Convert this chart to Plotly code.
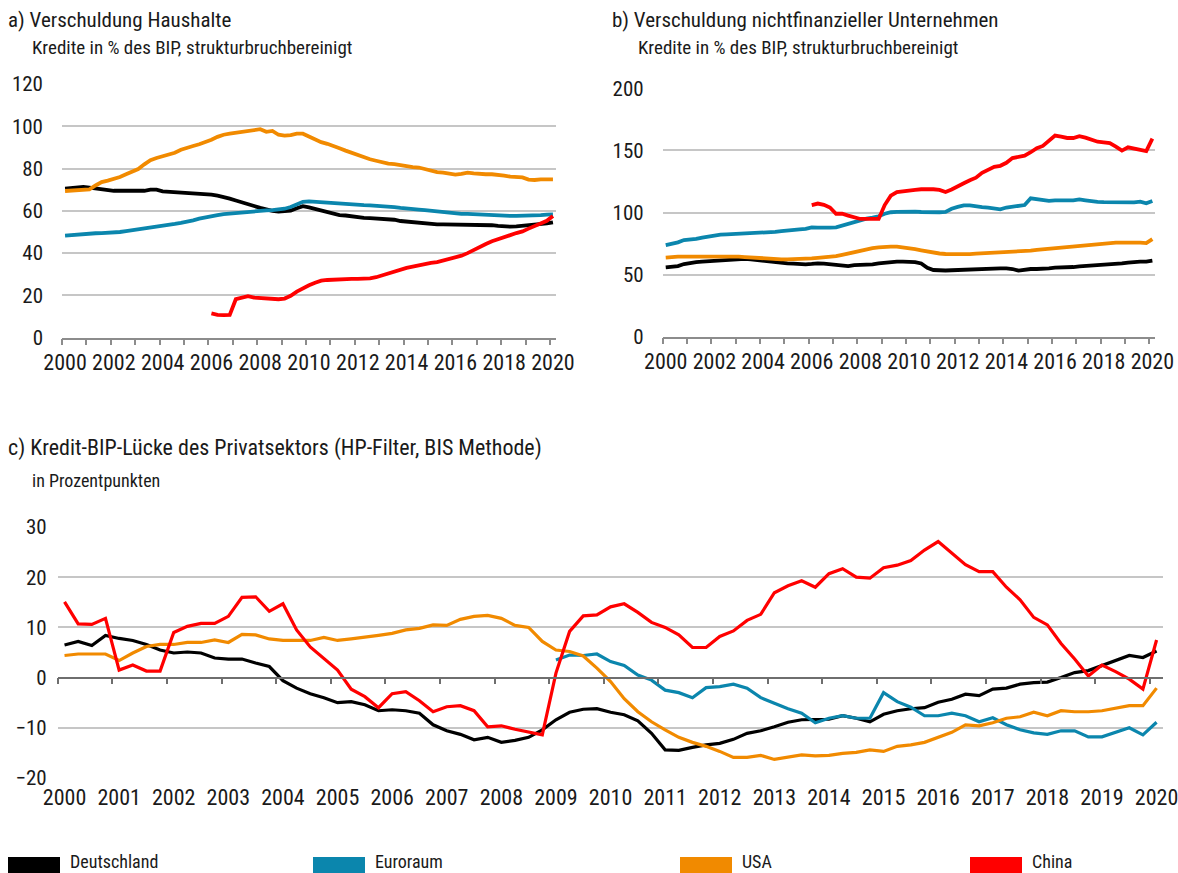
import plotly.graph_objects as go

# quarters 2000Q1 .. 2020Q1
quarters = [f"{2000 + i // 4}Q{i % 4 + 1}" for i in range(81)]

# a) household debt, % of GDP
hh_de = [70.5, 70.8, 71.0, 71.3, 71.0, 70.6, 70.5, 70.0, 69.5, 69.5, 69.5, 69.5, 69.3, 69.5, 70.0, 70.0,
         69.2, 69.0, 69.0, 69.0, 68.5, 68.3, 68.3, 68.2, 67.7, 67.2, 66.7, 65.8, 64.9, 63.9, 63.0, 62.3,
         61.4, 60.6, 60.0, 59.7, 59.7, 60.1, 61.2, 62.2, 61.6, 60.9, 60.2, 59.5, 58.6, 58.0, 57.8, 57.4,
         56.9, 56.7, 56.6, 56.5, 56.3, 56.1, 55.8, 55.2, 54.9, 54.6, 54.3, 54.0, 53.6, 53.6, 53.6, 53.6,
         53.5, 53.4, 53.3, 53.3, 53.3, 53.3, 53.2, 52.9, 52.6, 52.5, 52.7, 52.9, 53.2, 53.5, 53.8, 54.1, 54.6]
hh_ea = [48.3, 48.6, 48.9, 49.1, 49.3, 49.4, 49.5, 49.6, 49.7, 50.0, 50.4, 50.8, 51.1, 51.4, 51.9, 52.2,
         52.7, 53.2, 53.8, 54.3, 54.7, 55.5, 56.3, 57.0, 57.6, 58.0, 58.5, 58.8, 59.0, 59.2, 59.4, 59.7,
         60.0, 60.2, 60.3, 60.6, 61.0, 61.8, 63.0, 64.3, 64.5, 64.3, 64.1, 63.8, 63.5, 63.1, 63.0, 62.9,
         62.8, 62.7, 62.6, 62.5, 62.3, 62.0, 61.8, 61.4, 61.0, 60.8, 60.6, 60.3, 60.0, 59.6, 59.2, 58.9,
         58.7, 58.6, 58.6, 58.4, 58.3, 58.1, 58.0, 57.8, 57.6, 57.6, 57.6, 57.6, 57.7, 57.9, 58.0, 58.2, 58.3]
hh_us = [69.4, 69.7, 70.0, 70.3, 70.2, 72.0, 73.6, 74.3, 75.0, 76.0, 77.3, 78.6, 79.8, 82.0, 84.0, 85.0,
         85.8, 86.6, 87.5, 88.9, 89.6, 90.7, 91.5, 92.5, 93.6, 95.0, 96.0, 96.5, 96.9, 97.6, 98.1, 98.5,
         98.6, 97.4, 97.8, 96.0, 95.6, 95.8, 96.5, 96.5, 95.2, 93.6, 92.5, 91.7, 90.8, 89.6, 88.5, 87.5,
         86.5, 85.2, 84.4, 83.7, 83.0, 82.3, 82.1, 81.5, 81.0, 80.7, 80.5, 79.8, 78.7, 78.3, 78.1, 77.6,
         77.1, 77.5, 78.1, 77.7, 77.3, 77.3, 77.3, 77.2, 76.7, 76.2, 76.0, 75.8, 74.8, 74.6, 74.9, 74.9, 74.9]
hh_cn = [None] * 24 + [
         11.5, 10.8, 10.7, 10.8, 18.2, 18.8, 19.6, 19.0,
         18.8, 18.6, 18.5, 18.2, 18.5, 19.8, 21.8, 23.4, 24.8, 26.0, 27.0, 27.3, 27.5, 27.7, 27.8, 27.8,
         27.8, 27.9, 28.1, 28.6, 29.5, 30.1, 31.0, 32.3, 33.0, 33.6, 34.3, 35.0, 35.4, 35.8, 36.5, 37.2,
         38.0, 38.8, 40.0, 41.6, 43.0, 44.3, 45.6, 46.7, 47.4, 48.5, 49.5, 50.3, 51.6, 52.8, 54.0, 55.3, 57.6]

# b) non-financial corporate debt, % of GDP
nfc_de = [55.9, 56.5, 56.9, 58.5, 59.5, 60.1, 60.4, 60.7, 60.9, 61.2, 61.8, 62.3, 62.4, 62.6, 62.2, 61.7,
          61.0, 60.2, 59.5, 59.1, 59.1, 58.8, 58.4, 58.3, 58.6, 59.1, 58.8, 58.4, 57.5, 57.0, 56.9, 57.6,
          57.7, 57.7, 58.3, 59.1, 59.8, 60.5, 60.5, 60.4, 60.2, 60.1, 59.0, 55.5, 53.7, 53.3, 53.3, 53.5,
          53.7, 53.9, 54.3, 54.6, 55.0, 55.0, 55.0, 55.0, 55.0, 54.5, 53.2, 54.0, 54.5, 54.5, 54.5, 55.0,
          55.6, 55.6, 55.6, 56.1, 56.6, 56.9, 57.2, 57.5, 57.7, 58.0, 58.4, 59.0, 59.7, 60.3, 60.4, 60.4, 61.2]
nfc_ea = [73.8, 74.6, 76.0, 77.8, 78.2, 78.7, 79.8, 80.8, 81.9, 82.2, 82.4, 82.6, 82.9, 83.2, 83.7, 83.7,
          83.7, 84.0, 84.4, 85.0, 85.7, 86.2, 86.5, 86.8, 88.0, 87.8, 87.6, 87.8, 88.1, 89.5, 90.5, 92.0,
          94.0, 95.0, 95.8, 97.0, 99.0, 100.2, 100.5, 100.7, 100.7, 100.7, 100.4, 100.2, 100.2, 100.2, 100.5, 103.0,
          104.5, 105.7, 105.8, 104.8, 104.3, 104.0, 103.4, 102.6, 104.0, 104.9, 105.6, 106.0, 111.4, 110.6, 109.9, 109.4,
          109.7, 110.1, 109.8, 109.7, 110.5, 109.8, 109.0, 108.6, 108.3, 108.2, 108.0, 107.9, 108.0, 108.2, 108.7, 107.4, 109.2]
nfc_us = [63.6, 64.2, 64.4, 64.4, 64.4, 64.4, 64.4, 64.6, 64.8, 65.0, 64.9, 64.6, 64.4, 64.1, 63.8, 63.3,
          62.8, 62.4, 62.3, 62.3, 62.3, 62.3, 62.5, 62.7, 63.0, 63.4, 63.8, 64.2, 64.8, 65.8, 67.0, 68.4,
          69.5, 70.5, 71.3, 72.0, 72.5, 72.5, 72.5, 72.0, 71.2, 70.5, 69.6, 68.5, 67.6, 67.0, 66.6, 66.5,
          66.4, 66.3, 66.5, 66.9, 67.1, 67.3, 67.6, 67.8, 68.1, 68.4, 68.7, 69.0, 69.3, 69.9, 70.4, 70.8,
          71.2, 71.7, 72.3, 72.6, 73.0, 73.4, 74.0, 74.5, 75.0, 75.4, 75.7, 75.8, 76.0, 76.0, 75.8, 75.4, 78.6]
nfc_cn = [None] * 24 + [
          106.0, 107.2, 106.2, 104.0, 99.0, 99.0, 97.5, 95.8,
          94.8, 94.8, 94.8, 94.8, 106.0, 113.5, 116.5, 117.3, 118.0, 118.3, 118.7, 118.9, 118.7, 118.2, 116.5, 118.5,
          121.3, 123.5, 126.0, 128.0, 132.0, 134.5, 136.8, 137.6, 140.0, 143.8, 144.6, 145.7, 148.5, 151.8, 153.6, 157.5,
          161.9, 161.0, 160.0, 160.0, 161.5, 160.3, 158.8, 157.0, 156.5, 155.8, 153.0, 149.8, 152.5, 151.5, 150.5, 149.5, 159.5]

# c) credit-to-GDP gap, percentage points
gap_de = [6.5, 7.2, 6.4, 8.4, 7.8, 7.4, 6.6, 5.5, 4.9, 5.1, 4.9, 3.9, 3.7, 3.7, 2.9, 2.2,
          -0.6, -2.1, -3.2, -4.0, -5.0, -4.8, -5.4, -6.6, -6.4, -6.6, -7.1, -9.4, -10.6, -11.3, -12.4, -11.9,
          -12.9, -12.5, -11.9, -10.4, -8.4, -6.9, -6.3, -6.2, -6.9, -7.4, -8.6, -11.1, -14.4, -14.5, -13.9, -13.4,
          -13.1, -12.3, -11.1, -10.6, -9.8, -8.9, -8.4, -8.3, -8.3, -7.6, -8.1, -8.8, -7.3, -6.6, -6.2, -6.0,
          -4.9, -4.3, -3.3, -3.6, -2.3, -2.1, -1.3, -1.0, -0.9, 0.0, 1.0, 1.4, 2.4, 3.5, 4.4, 4.0, 5.3]
gap_ea = [None] * 36 + [
          3.5, 4.5, 4.4, 4.7, 3.2, 2.4, 0.5, -0.5, -2.5, -3.0, -4.0, -2.0,
          -1.8, -1.3, -2.1, -4.0, -5.1, -6.2, -7.1, -9.0, -8.1, -7.6, -8.1, -8.1, -3.0, -4.8, -5.9, -7.6,
          -7.6, -7.1, -7.6, -8.8, -8.0, -9.4, -10.4, -11.0, -11.3, -10.6, -10.6, -11.8, -11.8, -10.9, -10.0, -11.4, -8.9]
gap_us = [4.4, 4.7, 4.7, 4.7, 3.4, 4.9, 6.2, 6.6, 6.6, 7.0, 7.0, 7.5, 7.0, 8.6, 8.5, 7.7,
          7.4, 7.4, 7.4, 8.0, 7.4, 7.7, 8.0, 8.4, 8.8, 9.5, 9.8, 10.5, 10.4, 11.6, 12.2, 12.4,
          11.8, 10.4, 10.0, 7.2, 5.5, 5.2, 4.3, 1.9, -0.8, -4.2, -6.8, -8.8, -10.4, -11.9, -12.9, -13.7,
          -14.7, -15.9, -15.9, -15.5, -16.3, -15.8, -15.4, -15.6, -15.5, -15.1, -14.9, -14.4, -14.7, -13.7, -13.4, -12.9,
          -11.9, -10.9, -9.4, -9.6, -9.0, -8.1, -7.8, -6.9, -7.6, -6.6, -6.8, -6.8, -6.6, -6.1, -5.6, -5.6, -2.1]
gap_cn = [15.1, 10.7, 10.6, 11.8, 1.5, 2.5, 1.3, 1.3, 9.0, 10.2, 10.8, 10.8, 12.2, 16.0, 16.1, 13.2,
          14.7, 9.5, 6.1, 3.9, 1.5, -2.3, -3.8, -6.0, -3.2, -2.8, -4.6, -6.8, -5.8, -5.6, -6.6, -9.8,
          -9.6, -10.3, -10.9, -11.4, 0.9, 9.2, 12.3, 12.5, 14.1, 14.7, 13.0, 11.0, 10.0, 8.5, 6.0, 6.0,
          8.2, 9.3, 11.4, 12.6, 16.9, 18.3, 19.3, 18.0, 20.7, 21.7, 20.0, 19.8, 21.9, 22.4, 23.3, 25.4,
          27.1, 24.8, 22.5, 21.1, 21.1, 18.0, 15.5, 12.0, 10.5, 6.8, 3.7, 0.3, 2.5, 1.2, -0.3, -2.3, 7.5]

names = ["Deutschland", "Euroraum", "USA", "China"]
colors = ["#000000", "#0b86ad", "#f18a00", "#ff0000"]

FONT = "Liberation Sans Narrow, Arial Narrow, Roboto Condensed, Roboto, sans-serif"
W, H = 1178, 873

# Quarterly values sit in the middle of each quarter (category axis)
x = [int(q[:4]) + (int(q[-1]) - 1) / 4 + 0.125 for q in quarters]


def px_x(p):
    return p / W


def px_y(p):
    return 1 - p / H


fig = go.Figure()

panels = [
    ("x", "y", [hh_de, hh_ea, hh_us, hh_cn]),
    ("x2", "y2", [nfc_de, nfc_ea, nfc_us, nfc_cn]),
    ("x3", "y3", [gap_de, gap_ea, gap_us, gap_cn]),
]
for xa, ya, series in panels:
    for name, color, vals in zip(names, colors, series):
        fig.add_trace(go.Scatter(
            x=x, y=vals, mode="lines", name=name, xaxis=xa, yaxis=ya,
            line=dict(color=color, width=3.8 if xa != "x3" else 3.2),
            showlegend=False, connectgaps=False, hoverinfo="skip",
        ))

years = list(range(2000, 2021))
even_years = years[::2]


def x_axis(domain, label_years, anchor, show_line=True):
    return dict(
        domain=domain, range=[2000, 2020.25], anchor=anchor, automargin=False,
        tickmode="array", tickvals=[yr + 0.125 for yr in label_years],
        ticktext=[str(yr) for yr in label_years], ticks="",
        showgrid=False, zeroline=False,
        showline=show_line, linecolor="#8c8c8c", linewidth=1.5,
        minor=dict(tickmode="array", tickvals=years, ticks="outside" if show_line else "",
                   ticklen=6, tickcolor="#8c8c8c", tickwidth=1.5, showgrid=False),
        tickfont=dict(size=22, color="#1a1a1a"),
        ticklabelstandoff=4, ticklabeloverflow="allow",
        fixedrange=True,
    )


def y_axis(domain, rng, dtick, anchor, standoff):
    return dict(
        domain=domain, range=rng, dtick=dtick, anchor=anchor, automargin=False,
        showgrid=True, gridcolor="#c6c6c6", gridwidth=1.5,
        zeroline=False, showline=False, ticks="",
        tickfont=dict(size=21, color="#1a1a1a"),
        ticklabelstandoff=standoff, ticklabeloverflow="allow",
        fixedrange=True,
    )


fig.update_layout(
    width=W, height=H,
    margin=dict(l=0, r=0, t=0, b=0, autoexpand=False),
    paper_bgcolor="white", plot_bgcolor="white",
    font=dict(family=FONT, color="#1a1a1a"),
    showlegend=False,
    xaxis=x_axis([px_x(62), px_x(556)], even_years, "y"),
    yaxis=y_axis([px_y(337.7), px_y(84)], [0, 120], 20, "x", 18),
    xaxis2=x_axis([px_x(662.7), px_x(1155.4)], even_years, "y2"),
    yaxis2=y_axis([px_y(336.7), px_y(88.3)], [0, 200], 50, "x2", 18),
    xaxis3=x_axis([px_x(57.7), px_x(1163.4)], years, "y3", show_line=False),
    yaxis3=y_axis([px_y(778), px_y(527)], [-20, 30], 10, "x3", 10),
)

# axis line of panel c crosses at zero
y3_dom = [px_y(778), px_y(527)]
zero_pos = y3_dom[0] + (0 - (-20)) / 50 * (y3_dom[1] - y3_dom[0])
fig.update_layout(xaxis4=dict(
    overlaying="x3", anchor="free", position=zero_pos, side="bottom", automargin=False,
    range=[2000, 2020.25], showticklabels=False, showgrid=False, zeroline=False,
    showline=True, linecolor="#6e6e6e", linewidth=1.5,
    tickmode="array", tickvals=years, ticks="outside", ticklen=6,
    tickcolor="#6e6e6e", tickwidth=1.5, fixedrange=True,
))
fig.add_trace(go.Scatter(x=[2000], y=[None], xaxis="x4", yaxis="y3",
                         mode="lines", showlegend=False, hoverinfo="skip"))

# titles
titles = [
    (6, 20, "a) Verschuldung Haushalte", 21),
    (30, 47, "Kredite in % des BIP, strukturbruchbereinigt", 19),
    (610, 20, "b) Verschuldung nichtfinanzieller Unternehmen", 21),
    (636, 47, "Kredite in % des BIP, strukturbruchbereinigt", 19),
    (6, 448, "c) Kredit-BIP-Lücke des Privatsektors (HP-Filter, BIS Methode)", 22),
    (30, 480, "in Prozentpunkten", 18),
]
for tx, ty, text, size in titles:
    fig.add_annotation(x=px_x(tx), y=px_y(ty), xref="paper", yref="paper",
                       text=text, showarrow=False, xanchor="left", yanchor="middle",
                       font=dict(size=size, color="#1a1a1a", family=FONT))

# legend along the bottom
legend_x = [8, 313, 680, 970]
for lx, name, color in zip(legend_x, names, colors):
    fig.add_shape(type="rect", xref="paper", yref="paper",
                  x0=px_x(lx), x1=px_x(lx + 52), y0=px_y(873), y1=px_y(857),
                  fillcolor=color, line=dict(width=0))
    fig.add_annotation(x=px_x(lx + 60), y=px_y(861), xref="paper", yref="paper",
                       text=name, showarrow=False, xanchor="left", yanchor="middle",
                       font=dict(size=18, color="#1a1a1a", family=FONT))

fig.write_html("out.html", config={"displayModeBar": False},
               post_script="document.body.style.margin = '0px';")
